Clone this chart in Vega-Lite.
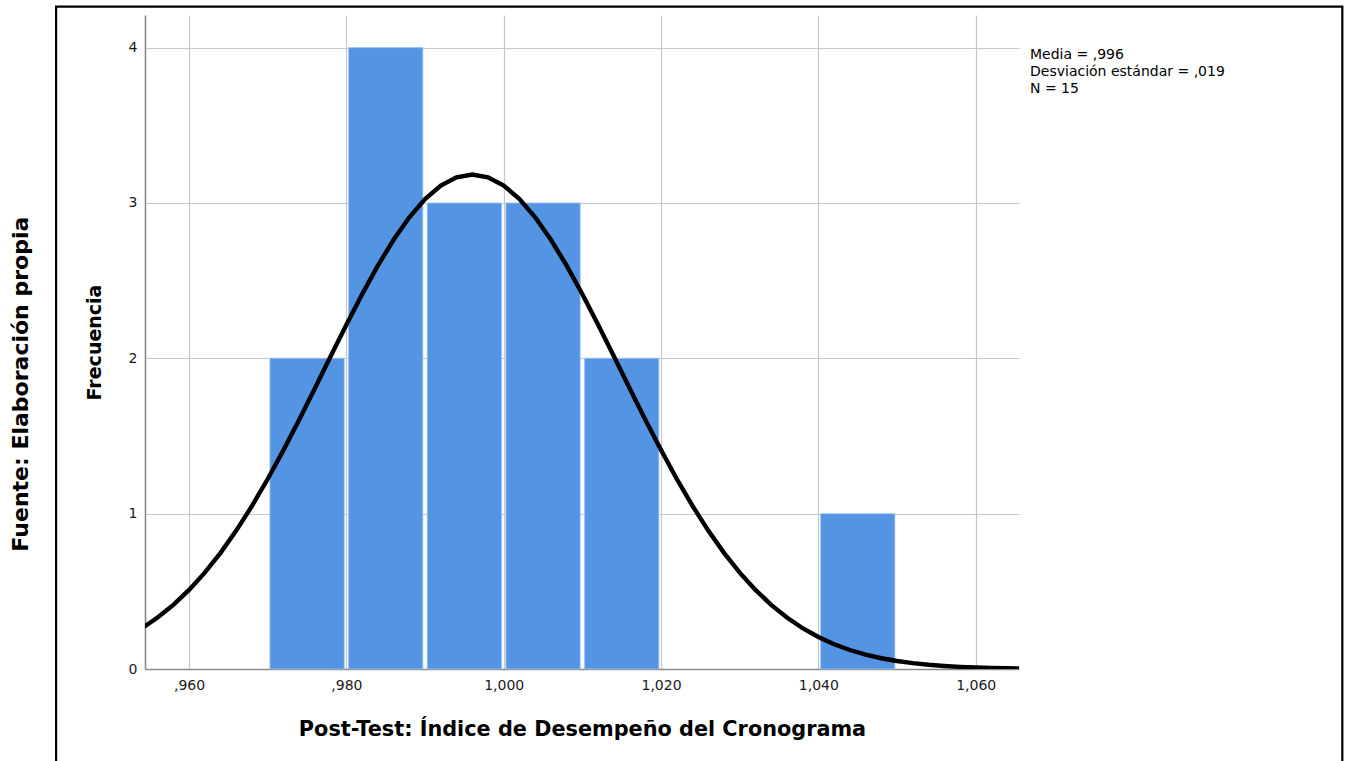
{
  "$schema": "https://vega.github.io/schema/vega-lite/v6.json",
  "width": 874,
  "height": 654,
  "autosize": "none",
  "padding": {"left": 145, "top": 15, "right": 332, "bottom": 92},
  "background": "white",
  "config": {
    "view": {"stroke": null},
    "font": "DejaVu Sans"
  },
  "title": {
    "text": "Fuente: Elaboración propia",
    "orient": "left",
    "anchor": "middle",
    "frame": "bounds",
    "font": "DejaVu Sans",
    "fontSize": 22,
    "fontWeight": "bold",
    "color": "black",
    "offset": 22,
    "dx": 8
  },
  "datasets": {
    "bins": [
      {"start": 0.97, "end": 0.98, "count": 2},
      {"start": 0.98, "end": 0.99, "count": 4},
      {"start": 0.99, "end": 1.0, "count": 3},
      {"start": 1.0, "end": 1.01, "count": 3},
      {"start": 1.01, "end": 1.02, "count": 2},
      {"start": 1.04, "end": 1.05, "count": 1}
    ],
    "curve": [
      {"x": 0.954, "y": 0.2625}, {"x": 0.956, "y": 0.3311}, {"x": 0.958, "y": 0.4127},
      {"x": 0.96, "y": 0.5089}, {"x": 0.962, "y": 0.6203}, {"x": 0.964, "y": 0.7477},
      {"x": 0.966, "y": 0.8911}, {"x": 0.968, "y": 1.0498}, {"x": 0.97, "y": 1.2231},
      {"x": 0.972, "y": 1.4091}, {"x": 0.974, "y": 1.605}, {"x": 0.976, "y": 1.8076},
      {"x": 0.978, "y": 2.0127}, {"x": 0.98, "y": 2.216}, {"x": 0.982, "y": 2.4123},
      {"x": 0.984, "y": 2.5964}, {"x": 0.986, "y": 2.763}, {"x": 0.988, "y": 2.9075},
      {"x": 0.99, "y": 3.025}, {"x": 0.992, "y": 3.1118}, {"x": 0.994, "y": 3.165},
      {"x": 0.996, "y": 3.183}, {"x": 0.998, "y": 3.165}, {"x": 1.0, "y": 3.1118},
      {"x": 1.002, "y": 3.025}, {"x": 1.004, "y": 2.9075}, {"x": 1.006, "y": 2.763},
      {"x": 1.008, "y": 2.5964}, {"x": 1.01, "y": 2.4123}, {"x": 1.012, "y": 2.216},
      {"x": 1.014, "y": 2.0127}, {"x": 1.016, "y": 1.8076}, {"x": 1.018, "y": 1.605},
      {"x": 1.02, "y": 1.4091}, {"x": 1.022, "y": 1.2231}, {"x": 1.024, "y": 1.0498},
      {"x": 1.026, "y": 0.8911}, {"x": 1.028, "y": 0.7477}, {"x": 1.03, "y": 0.6203},
      {"x": 1.032, "y": 0.5089}, {"x": 1.034, "y": 0.4127}, {"x": 1.036, "y": 0.3311},
      {"x": 1.038, "y": 0.2625}, {"x": 1.04, "y": 0.2058}, {"x": 1.042, "y": 0.1596},
      {"x": 1.044, "y": 0.1223}, {"x": 1.046, "y": 0.0927}, {"x": 1.048, "y": 0.0694},
      {"x": 1.05, "y": 0.0514}, {"x": 1.052, "y": 0.0377}, {"x": 1.054, "y": 0.0273},
      {"x": 1.056, "y": 0.0195}, {"x": 1.058, "y": 0.0138}, {"x": 1.06, "y": 0.0097},
      {"x": 1.062, "y": 0.0067}, {"x": 1.064, "y": 0.0046}, {"x": 1.066, "y": 0.0031}
    ],
    "stats": [
      {"lines": ["Media = ,996", "Desviación estándar = ,019", "N = 15"]}
    ],
    "frame": [
      {"name": "border"}
    ]
  },
  "layer": [
    {
      "data": {"name": "bins"},
      "mark": {"type": "rect", "color": "#5495e3", "stroke": "#9cc2f0", "strokeWidth": 0.8, "xOffset": 2.2, "x2Offset": -2.2},
      "encoding": {
        "x": {
          "field": "start", "type": "quantitative",
          "scale": {"domain": [0.9544, 1.0655], "nice": false, "zero": false},
          "axis": {
            "values": [0.96, 0.98, 1.0, 1.02, 1.04, 1.06],
            "labelExpr": "datum.value < 0.9999 ? ',' + substring(format(datum.value, '.3f'), 2) : replace(format(datum.value, '.3f'), '.', ',')",
            "title": "Post-Test: Índice de Desempeño del Cronograma",
            "titleFont": "DejaVu Sans",
            "titleFontSize": 20.8,
            "titleFontWeight": "bold",
            "titleColor": "black",
            "titlePadding": 27,
            "labelFont": "DejaVu Sans",
            "labelFontSize": 14,
            "labelColor": "#1a1a1a",
            "labelPadding": 9,
            "ticks": false,
            "grid": true,
            "gridColor": "#c8c8c8",
            "gridWidth": 1.2,
            "domainColor": "#8a8a8a",
            "domainWidth": 1.6
          }
        },
        "x2": {"field": "end"},
        "y": {
          "field": "count", "type": "quantitative",
          "scale": {"domain": [0, 4.21], "nice": false},
          "axis": {
            "values": [0, 1, 2, 3, 4],
            "format": "d",
            "title": "Frecuencia",
            "titleFont": "DejaVu Sans",
            "titleFontSize": 19,
            "titleFontWeight": "bold",
            "titleColor": "black",
            "titlePadding": 24,
            "labelFont": "DejaVu Sans",
            "labelFontSize": 14,
            "labelColor": "#1a1a1a",
            "labelPadding": 8,
            "ticks": false,
            "grid": true,
            "gridColor": "#c8c8c8",
            "gridWidth": 1.2,
            "domainColor": "#8a8a8a",
            "domainWidth": 1.6
          }
        },
        "y2": {"datum": 0}
      }
    },
    {
      "data": {"name": "curve"},
      "mark": {"type": "line", "color": "black", "strokeWidth": 4.4, "clip": true},
      "encoding": {
        "x": {"field": "x", "type": "quantitative"},
        "y": {"field": "y", "type": "quantitative"}
      }
    },
    {
      "data": {"name": "stats"},
      "mark": {"type": "text", "align": "left", "baseline": "alphabetic", "fontSize": 14, "lineHeight": 17, "font": "DejaVu Sans", "color": "black", "clip": false},
      "encoding": {
        "x": {"datum": 1.0669, "type": "quantitative"},
        "y": {"datum": 3.927, "type": "quantitative"},
        "text": {"field": "lines"}
      }
    },
    {
      "data": {"name": "frame"},
      "mark": {"type": "rect", "fill": "transparent", "stroke": "black", "strokeWidth": 2.2, "clip": false},
      "encoding": {
        "x": {"datum": 0.9431, "type": "quantitative"},
        "x2": {"datum": 1.1066},
        "y": {"datum": 4.264, "type": "quantitative"},
        "y2": {"datum": -0.7}
      }
    }
  ]
}
